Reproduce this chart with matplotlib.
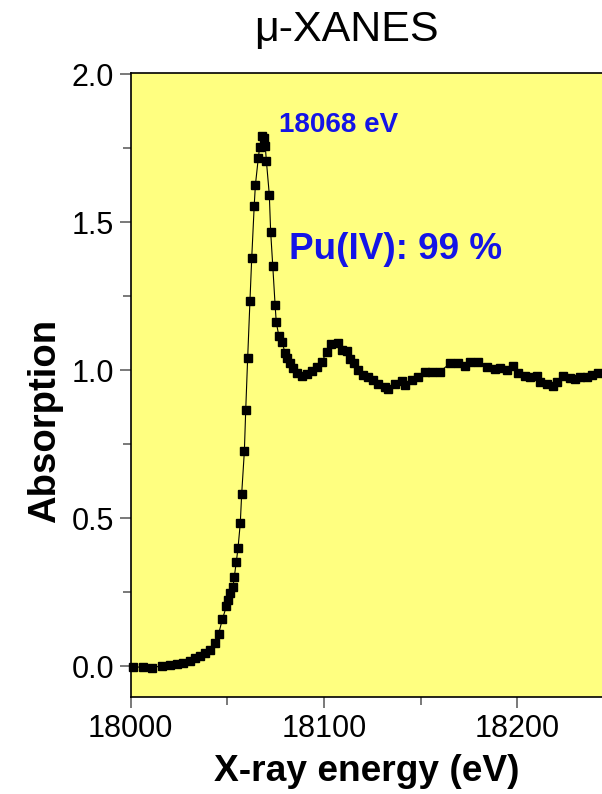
import matplotlib
matplotlib.use("Agg")
import matplotlib.pyplot as plt
from matplotlib.ticker import MultipleLocator

plt.rcParams['font.family'] = ['Liberation Sans', 'DejaVu Sans']

# energie (eV) y absorcion normalizada
energy = [
    18001.3, 18006.5, 18010.9, 18016.0, 18020.3, 18023.8, 18027.2, 18030.7,
    18033.3, 18035.9, 18038.5, 18041.0, 18043.5, 18045.5, 18047.4, 18049.5,
    18050.5, 18051.5, 18052.9, 18053.6, 18054.6, 18055.5, 18056.7, 18057.4,
    18058.8, 18059.5, 18060.5, 18061.7, 18062.6, 18063.9, 18064.5, 18066.0,
    18066.7, 18068.1, 18068.8, 18069.6, 18070.2, 18071.7, 18072.4, 18073.5,
    18074.7, 18075.3, 18076.6, 18078.3, 18079.8, 18081.0, 18082.4, 18083.8,
    18085.9, 18088.5, 18091.1, 18093.6, 18096.2, 18098.8, 18101.4, 18103.8,
    18107.4, 18109.2, 18111.7, 18113.4, 18115.5, 18117.7, 18120.3, 18122.9,
    18125.5, 18128.1, 18131.6, 18133.3, 18136.7, 18140.2, 18141.9, 18145.4,
    18148.8, 18152.3, 18155.7, 18160.0, 18165.2, 18169.5, 18172.9, 18175.5,
    18179.8, 18184.2, 18188.5, 18191.0, 18194.5, 18197.6, 18200.5, 18204.0,
    18206.6, 18210.0, 18211.7, 18215.2, 18218.6, 18220.4, 18223.8, 18227.3,
    18229.9, 18232.4, 18235.9, 18238.5, 18241.9,
]
absorption = [
    -0.003, -0.001, -0.004, 0.002, 0.005, 0.008, 0.013, 0.020,
    0.029, 0.035, 0.046, 0.056, 0.078, 0.111, 0.159, 0.203,
    0.225, 0.247, 0.268, 0.303, 0.352, 0.399, 0.485, 0.582,
    0.727, 0.866, 1.041, 1.236, 1.379, 1.557, 1.626, 1.717,
    1.754, 1.793, 1.784, 1.758, 1.707, 1.594, 1.469, 1.352,
    1.221, 1.163, 1.118, 1.097, 1.060, 1.041, 1.024, 1.007,
    0.990, 0.981, 0.988, 0.998, 1.013, 1.030, 1.061, 1.090,
    1.092, 1.069, 1.066, 1.038, 1.026, 1.002, 0.985, 0.977,
    0.968, 0.954, 0.943, 0.936, 0.953, 0.965, 0.951, 0.968,
    0.979, 0.996, 0.996, 0.996, 1.024, 1.024, 1.015, 1.028,
    1.030, 1.013, 1.004, 1.007, 1.002, 1.015, 0.991, 0.981,
    0.979, 0.982, 0.962, 0.954, 0.948, 0.962, 0.981, 0.974,
    0.970, 0.979, 0.977, 0.985, 0.991,
]

peak_label = "18068 eV"
fit_label = "Pu(IV): 99 %"
blue = '#1414e6'

fig = plt.figure(figsize=(6.02, 7.94), dpi=100)
ax = fig.add_axes([0.2171, 0.1222, 0.7829, 0.7859])
ax.set_facecolor('#ffff80')

ax.plot(energy, absorption, color='black', lw=0.8, marker='s', ms=5.6,
        mfc='black', mec='black', clip_on=False)

ax.set_xlim(18000, 18243.8)
ax.set_ylim(-0.103, 2.005)
ax.xaxis.set_major_locator(MultipleLocator(100))
ax.xaxis.set_minor_locator(MultipleLocator(50))
ax.yaxis.set_major_locator(MultipleLocator(0.5))
ax.yaxis.set_minor_locator(MultipleLocator(0.25))
ax.yaxis.set_major_formatter(plt.FormatStrFormatter('%.1f'))
ax.tick_params(which='major', direction='out', length=8, width=1.1,
               color='#555555', labelsize=22, pad=4)
ax.tick_params(which='minor', direction='out', length=6, width=1.1,
               color='#555555')
ax.spines['right'].set_visible(False)
for s in ['left', 'bottom', 'top']:
    ax.spines[s].set_linewidth(1.2)

fig.text(0.575, 0.962, 'μ-XANES', ha='center', va='center', fontsize=31)
fig.text(0.609, 0.028, 'X-ray energy (eV)', ha='center', va='center',
         fontsize=26.7, fontweight='bold')
fig.text(0.075, 0.47, 'Absorption', ha='center', va='center', rotation=90,
         fontsize=27.5, fontweight='bold')

ax.text(18076.5, 1.83, peak_label, color=blue, fontsize=20,
        fontweight='bold', ha='left', va='center')
ax.text(18082, 1.41, fit_label, color=blue, fontsize=26.6,
        fontweight='bold', ha='left', va='center')

fig.savefig('out.png', dpi=100)
